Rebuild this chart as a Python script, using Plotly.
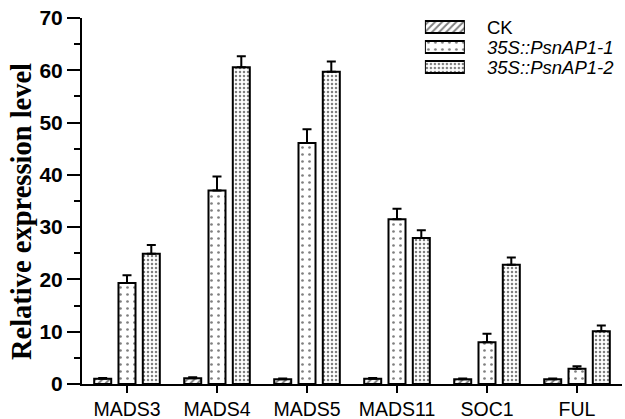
import plotly.graph_objects as go

genes = ["MADS3", "MADS4", "MADS5", "MADS11", "SOC1", "FUL"]
ck = [1.0, 1.1, 0.9, 1.0, 0.9, 0.9]
ck_err = [0.15, 0.2, 0.15, 0.15, 0.15, 0.15]
l1 = [19.3, 37.0, 46.1, 31.5, 8.0, 2.9]
l1_err = [1.5, 2.7, 2.6, 2.0, 1.6, 0.5]
l2 = [24.9, 60.6, 59.7, 27.9, 22.8, 10.1]
l2_err = [1.7, 2.1, 2.0, 1.5, 1.4, 1.1]
names = ["CK", "<i>35S::PsnAP1-1</i>", "<i>35S::PsnAP1-2</i>"]
legend_rows = [2, 1, 0]

fig = go.Figure()
specs = [
    (ck, ck_err, dict(shape="/", size=5, solidity=0.4)),
    (l1, l1_err, dict(shape=".", size=7, solidity=0.12)),
    (l2, l2_err, dict(shape=".", size=4, solidity=0.3)),
]
for name, row, (vals, err, pat) in zip(names, legend_rows, specs):
    fig.add_trace(go.Bar(
        x=genes, y=vals, name=name, showlegend=False,
        marker=dict(color="white", line=dict(color="black", width=2),
                    pattern=dict(fgcolor="black", bgcolor="white", **pat)),
        error_y=dict(type="data", array=err, arrayminus=[0] * len(err), symmetric=False,
                     color="black", thickness=2, width=4.5),
    ))
    # legend swatch
    fig.add_trace(go.Bar(
        x=[1], y=[row], base=0, orientation="h", width=0.6,
        xaxis="x2", yaxis="y2", showlegend=False, hoverinfo="skip",
        marker=dict(color="white", line=dict(color="black", width=2),
                    pattern=dict(fgcolor="black", bgcolor="white", **pat)),
    ))
    fig.add_annotation(
        x=0.7463, xref="paper", y=row, yref="y2", text=name, showarrow=False,
        xanchor="left", yanchor="middle",
        font=dict(family="Liberation Sans, Arial", size=18.5, color="black"),
    )

fig.add_annotation(
    x=-0.111, xref="paper", y=0.47, yref="paper", text="<b>Relative expression level</b>",
    textangle=-90, showarrow=False, xanchor="center", yanchor="middle",
    font=dict(family="Liberation Serif, Times New Roman", size=28.5, color="black"),
)

fig.update_layout(
    width=625, height=419,
    margin=dict(l=82, r=3, t=18, b=35, autoexpand=False),
    plot_bgcolor="white", paper_bgcolor="white",
    barmode="group", bargap=0.19, bargroupgap=0.3,
    showlegend=False, hovermode=False,
    font=dict(family="Liberation Sans, Arial", color="black"),
    xaxis=dict(
        showline=True, linecolor="black", linewidth=2,
        ticks="outside", ticklen=7, tickwidth=2, tickcolor="black",
        tickfont=dict(family="Liberation Sans, Arial", size=19.5, color="black"),
        range=[-0.5, 5.5],
    ),
    yaxis=dict(
        range=[0, 70], dtick=10, showgrid=False, zeroline=False,
        showline=True, linecolor="black", linewidth=2,
        ticks="outside", ticklen=13, tickwidth=2, tickcolor="black",
        minor=dict(dtick=5, ticks="outside", ticklen=6, tickwidth=2, tickcolor="black"),
        tickfont=dict(family="Liberation Sans, Arial", size=21, color="black", weight="bold"),
        ticklabeloverflow="allow",
    ),
    xaxis2=dict(domain=[0.635, 0.709], range=[0, 1], anchor="y2", visible=False),
    yaxis2=dict(domain=[0.8388, 1.0], range=[-0.5, 2.45], anchor="x2", visible=False),
)
fig.write_html("out.html", config={"displayModeBar": False, "staticPlot": True},
               post_script="document.body.style.margin='0px';")
